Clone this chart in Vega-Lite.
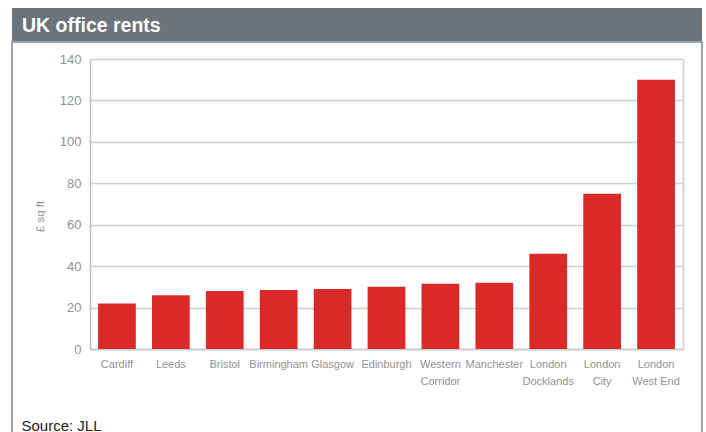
{
  "$schema": "https://vega.github.io/schema/vega-lite/v6.json",
  "padding": {"left": 11, "top": 8, "right": 0, "bottom": 0},
  "background": "white",
  "spacing": 0,
  "bounds": "flush",
  "config": {"font": "Liberation Sans, sans-serif"},
  "vconcat": [
    {
      "width": 690,
      "height": 34,
      "view": {"fill": "#6b737b", "stroke": null},
      "data": {"values": [{"title": "UK office rents"}]},
      "mark": {"type": "text", "align": "left", "baseline": "middle", "dx": 10, "dy": 1, "color": "white", "fontWeight": "bold", "fontSize": 19.5, "font": "Liberation Sans, sans-serif"},
      "encoding": {
        "text": {"field": "title"},
        "x": {"field": "title", "type": "nominal", "axis": null, "scale": {"type": "point", "align": 0, "padding": 0}}
      }
    },
    {
      "width": 690,
      "height": 400,
      "view": {"fill": "white", "stroke": "#9ea3a8", "strokeWidth": 2},
      "data": {"values": [
        {"city": "Cardiff", "rent": 22},
        {"city": "Leeds", "rent": 26},
        {"city": "Bristol", "rent": 28},
        {"city": "Birmingham", "rent": 28.5},
        {"city": "Glasgow", "rent": 29},
        {"city": "Edinburgh", "rent": 30},
        {"city": "Western Corridor", "rent": 31.5},
        {"city": "Manchester", "rent": 32},
        {"city": "London Docklands", "rent": 46},
        {"city": "London City", "rent": 75},
        {"city": "London West End", "rent": 130}
      ]},
      "encoding": {
        "x": {
          "field": "city", "type": "nominal", "sort": null,
          "scale": {"range": [78, 671], "paddingInner": 0.3, "paddingOuter": 0.15},
          "axis": {
            "orient": "bottom", "offset": -93, "domainColor": "#c8c8c8", "domainWidth": 1.5,
            "ticks": false, "grid": false, "labelAngle": 0, "labelColor": "#929292",
            "labelFontSize": 11, "labelPadding": 9, "labelLineHeight": 17, "labelOverlap": false, "labelBound": false, "labelLimit": 0,
            "labelExpr": "datum.label == 'Western Corridor' ? ['Western', 'Corridor'] : indexof(datum.label, 'London ') == 0 ? ['London', substring(datum.label, 7)] : datum.label",
            "title": "Source: JLL", "titleX": 9, "titleY": 81, "titleAlign": "left", "titleAnchor": "start", "titleBaseline": "alphabetic",
            "titleFont": "Liberation Sans", "titleFontSize": 15, "titleFontWeight": "normal", "titleColor": "#222222"
          }
        }
      },
      "layer": [
        {
          "mark": {"type": "bar", "color": "#d92a27"},
          "encoding": {
            "y": {
              "field": "rent", "type": "quantitative",
              "scale": {"domain": [0, 140], "range": [307, 17], "nice": false},
              "axis": {
                "orient": "left", "offset": -78, "domainColor": "#bdbdbd", "domainWidth": 1.5, "ticks": false,
                "grid": true, "gridColor": "#cfcfcf", "gridWidth": 1.5, "tickCount": 7,
                "labelColor": "#929292", "labelFontSize": 13, "labelPadding": 9,
                "title": "£ sq ft", "titleColor": "#929292", "titleFontSize": 11.5, "titleFontWeight": "normal",
                "titlePadding": 14, "titleY": 174
              }
            }
          }
        },
        {
          "mark": {"type": "bar", "opacity": 0},
          "encoding": {
            "y": {
              "field": "rent", "type": "quantitative",
              "axis": {"orient": "right", "offset": -19, "domainColor": "#d5d5d5", "domainWidth": 2, "labels": false, "ticks": false, "grid": false, "title": null}
            }
          }
        }
      ],
      "resolve": {"axis": {"y": "independent"}}
    }
  ]
}
